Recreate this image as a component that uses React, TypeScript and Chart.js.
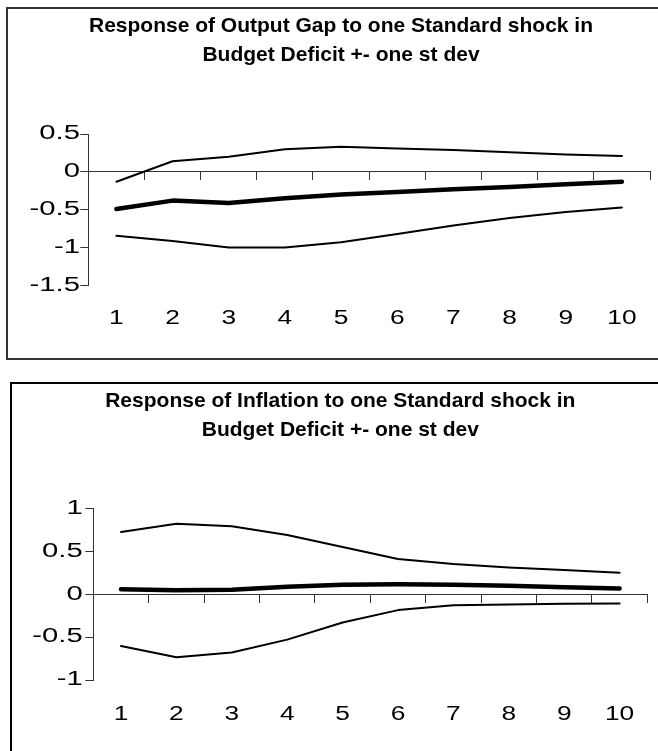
import React, { useEffect, useRef } from "react";
import { Chart, registerables } from "chart.js";
Chart.register(...registerables);

const periods = ["1", "2", "3", "4", "5", "6", "7", "8", "9", "10"];

const gapTitle = ["Response of Output Gap to one Standard shock in", "Budget Deficit +- one st dev"];
const gapUpper = [-0.13, 0.14, 0.2, 0.3, 0.33, 0.31, 0.29, 0.26, 0.23, 0.21];
const gapMid = [-0.49, -0.38, -0.41, -0.35, -0.3, -0.265, -0.23, -0.2, -0.165, -0.13];
const gapLower = [-0.845, -0.915, -1.0, -1.0, -0.93, -0.82, -0.71, -0.61, -0.53, -0.47];

const infTitle = ["Response of Inflation to one Standard shock in", "Budget Deficit +- one st dev"];
const infUpper = [0.725, 0.82, 0.79, 0.69, 0.55, 0.41, 0.35, 0.31, 0.28, 0.25];
const infMid = [0.058, 0.045, 0.05, 0.085, 0.11, 0.116, 0.11, 0.097, 0.08, 0.066];
const infLower = [-0.605, -0.736, -0.68, -0.53, -0.33, -0.186, -0.128, -0.12, -0.113, -0.108];

const FONT = "'Liberation Sans', Arial, sans-serif";
const AXIS = "#333";

const fmt = (v: any) => String(Math.round(Number(v) * 100) / 100);

// Tick labels placed at the scales' own tick positions, with the wide glyph look of the original.
const wideTicks = {
  id: "wideTicks",
  afterDraw(chart: any, _args: any, opts: any) {
    const ctx = chart.ctx;
    const xs = chart.scales.x;
    const ys = chart.scales.y;
    ctx.save();
    ctx.fillStyle = "#000";
    ctx.font = `${opts.size}px ${FONT}`;
    ctx.textBaseline = "middle";
    xs.ticks.forEach((t: any, i: number) => {
      ctx.save();
      ctx.translate(xs.getPixelForTick(i), chart.chartArea.bottom + opts.xGap);
      ctx.scale(opts.sxX, 1);
      ctx.textAlign = "center";
      ctx.fillText(String(xs.getLabelForValue(t.value)), 0, 0);
      ctx.restore();
    });
    ys.ticks.forEach((t: any) => {
      ctx.save();
      ctx.translate(ys.right - opts.yGap, ys.getPixelForValue(t.value));
      ctx.scale(opts.sxY, 1);
      ctx.textAlign = "right";
      ctx.fillText(fmt(t.value), 0, 0);
      ctx.restore();
    });
    ctx.restore();
  },
};

type Props = {
  title: string[];
  upper: number[];
  mid: number[];
  lower: number[];
  yMin: number;
  yMax: number;
  width: number;
  height: number;
  padLeft: number;
  padRight: number;
  yAxisWidth: number;
  titleBottom: number;
  xAxisHeight: number;
  xGap: number;
  yGap: number;
};

function IRFChart(p: Props) {
  const ref = useRef<HTMLCanvasElement | null>(null);
  useEffect(() => {
    if (!ref.current) return;
    const thin = (data: number[]) => ({
      data,
      borderColor: "#000",
      borderWidth: 2,
      pointRadius: 0,
      tension: 0,
      borderCapStyle: "round" as const,
      borderJoinStyle: "round" as const,
    });
    const chart = new Chart(ref.current, {
      type: "line",
      data: {
        labels: periods,
        datasets: [thin(p.upper), { ...thin(p.mid), borderWidth: 4.5 }, thin(p.lower)],
      },
      plugins: [wideTicks],
      options: {
        responsive: false,
        animation: false,
        devicePixelRatio: 1,
        layout: { padding: { left: p.padLeft, right: p.padRight, top: 0, bottom: 0 } },
        plugins: {
          legend: { display: false },
          tooltip: { enabled: false },
          wideTicks: { size: 19.5, sxX: 1.35, sxY: 1.5, xGap: p.xGap, yGap: p.yGap },
          title: {
            display: true,
            text: p.title,
            color: "#000",
            font: { family: FONT, size: 21, weight: "bold", lineHeight: 28.3 / 21 },
            padding: { top: 3.55, bottom: p.titleBottom },
          },
        },
        scales: {
          x: {
            type: "category",
            position: "bottom",
            offset: true,
            grid: { display: false, drawTicks: false },
            border: { display: false },
            ticks: { display: false, autoSkip: false },
            afterFit: (s: any) => { s.height = p.xAxisHeight; },
          },
          xZero: {
            type: "category",
            position: { y: 0 },
            offset: true,
            grid: { display: true, offset: true, drawOnChartArea: false, drawTicks: true, tickLength: 8, color: AXIS, lineWidth: 1 },
            border: { display: true, color: AXIS, width: 1 },
            ticks: { display: false },
          },
          y: {
            type: "linear",
            position: "left",
            min: p.yMin,
            max: p.yMax,
            grid: { drawOnChartArea: false, drawTicks: true, tickLength: 8, color: AXIS, lineWidth: 1 },
            border: { display: true, color: AXIS, width: 1 },
            ticks: { stepSize: 0.5, display: false, callback: fmt },
            afterFit: (s: any) => { s.width = p.yAxisWidth; },
          },
        },
      },
    } as any);
    return () => chart.destroy();
  }, []);
  return <canvas ref={ref} width={p.width} height={p.height} style={{ display: "block", width: p.width, height: p.height }} />;
}

export default function App() {
  return (
    <div style={{ position: "absolute", left: 0, top: 0, width: 658, height: 751, overflow: "hidden", background: "#fff" }}>
      <div style={{ position: "absolute", left: 6, top: 7, width: 700, height: 349, border: "2px solid #333" }}>
        <IRFChart
          title={gapTitle}
          upper={gapUpper}
          mid={gapMid}
          lower={gapLower}
          yMin={-1.5}
          yMax={0.5}
          width={650}
          height={349}
          padLeft={24}
          padRight={8}
          yAxisWidth={56.3}
          titleBottom={64.85}
          xAxisHeight={72.6}
          xGap={33.6}
          yGap={8.3}
        />
      </div>
      <div style={{ position: "absolute", left: 10, top: 382, width: 700, height: 400, border: "2px solid #000" }}>
        <IRFChart
          title={infTitle}
          upper={infUpper}
          mid={infMid}
          lower={infLower}
          yMin={-1}
          yMax={1}
          width={646}
          height={367}
          padLeft={21.3}
          padRight={10.7}
          yAxisWidth={60}
          titleBottom={64.15}
          xAxisHeight={71}
          xGap={34.5}
          yGap={10.6}
        />
      </div>
    </div>
  );
}
